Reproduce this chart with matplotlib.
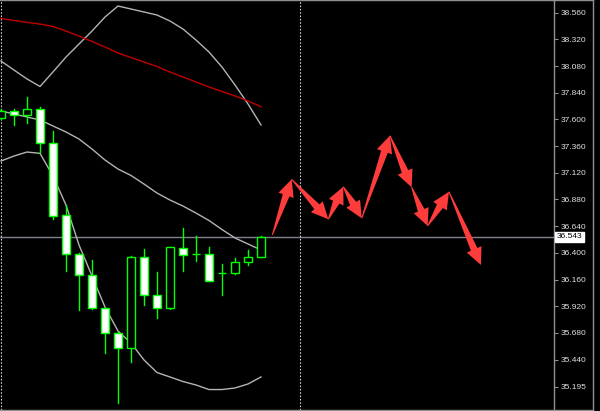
"""
MT4-style candle chart with bands and hand-drawn forecast arrows
"""
import numpy as np
import matplotlib
matplotlib.use('Agg')
import matplotlib.pyplot as plt
from matplotlib.patches import Rectangle, Polygon
from matplotlib.lines import Line2D

#----------------------------DATA-------------------------------#
opens  = [37.610, 37.676, 37.640, 37.694, 37.385, 36.738, 36.392, 36.204, 35.901, 35.682,
          35.544, 36.363, 36.018, 35.901, 36.444, 36.391, 36.392, 36.223, 36.216, 36.318, 36.360]
highs  = [37.690, 37.694, 37.804, 37.712, 37.499, 36.831, 36.400, 36.336, 35.905, 35.690,
          36.374, 36.437, 36.228, 36.455, 36.621, 36.554, 36.450, 36.300, 36.351, 36.423, 36.554]
lows   = [37.600, 37.547, 37.571, 37.295, 36.705, 36.237, 35.886, 35.895, 35.497, 35.053,
          35.421, 35.934, 35.812, 35.893, 36.237, 36.324, 36.150, 36.024, 36.207, 36.288, 36.360]
closes = [37.678, 37.643, 37.694, 37.385, 36.734, 36.392, 36.201, 35.901, 35.682, 35.544,
          36.366, 36.018, 35.907, 36.450, 36.384, 36.389, 36.150, 36.221, 36.318, 36.363, 36.543]

upper_band  = [38.125, 38.044, 37.964, 37.896, 38.027, 38.161, 38.278, 38.395, 38.521, 38.620,
               38.593, 38.566, 38.539, 38.485, 38.413, 38.314, 38.206, 38.071, 37.910, 37.739, 37.550]
middle_band = [37.676, 37.649, 37.622, 37.595, 37.541, 37.487, 37.424, 37.334, 37.235, 37.154,
               37.096, 37.019, 36.938, 36.875, 36.821, 36.758, 36.691, 36.610, 36.534, 36.480, 36.426]
lower_band  = [37.226, 37.271, 37.307, 37.295, 37.091, 36.830, 36.471, 36.192, 35.913, 35.697,
               35.589, 35.437, 35.324, 35.284, 35.243, 35.212, 35.171, 35.171, 35.185, 35.221, 35.284]
ma_red      = [38.508, 38.490, 38.473, 38.458, 38.436, 38.395, 38.350, 38.301, 38.251, 38.197,
               38.157, 38.116, 38.076, 38.026, 37.982, 37.937, 37.892, 37.851, 37.811, 37.766, 37.714]

# forecast path (bar index, price)
arrow_x = [20.87, 22.36, 25.18, 26.33, 27.75, 29.92, 31.59, 32.82, 34.46, 36.92]
arrow_y = [36.561, 37.062, 36.702, 36.995, 36.711, 37.454, 36.990, 36.642, 36.950, 36.291]

tick_vals = [38.560, 38.320, 38.080, 37.840, 37.600, 37.360, 37.120, 36.880,
             36.640, 36.400, 36.160, 35.920, 35.680, 35.440, 35.195]
tick_labels = ['38.560', '38.320', '38.080', '37.840', '37.600', '37.360', '37.120', '36.880',
               '36.640', '36.400', '36.160', '35.920', '35.680', '35.440', '35.195']
last_price = 36.543
separators = [0, 23]
#---------------------------------------------------------------#

W, H = 600, 411
fig = plt.figure(figsize=(W/100, H/100), dpi=100, facecolor='black')
ax = fig.add_axes([0, 1/H, 554/W, 410/H], facecolor='black')
ax.set_xlim(-1/13, 553/13)
ax.set_ylim(34.987, 38.674)

green = '#00ff00'
bw = 0.62
for i in range(len(opens)):
    o, h, l, c = opens[i], highs[i], lows[i], closes[i]
    ax.add_line(Line2D([i, i], [l, h], color=green, lw=1, zorder=3))
    fill = 'white' if c < o else 'black'
    ax.add_patch(Rectangle((i - bw/2, min(o, c)), bw, max(abs(c - o), 0.001),
                           facecolor=fill, edgecolor=green, lw=1, zorder=4))

xs = np.arange(len(upper_band))
ax.plot(xs, upper_band, color='#b4b4b4', lw=1, zorder=2)
ax.plot(xs, middle_band, color='#b4b4b4', lw=1, zorder=2)
ax.plot(xs, lower_band, color='#b4b4b4', lw=1, zorder=2)
ax.plot(xs, ma_red, color='#c00000', lw=1, zorder=2)

ax.axhline(last_price, color='#80808e', lw=1, zorder=1)
for s in separators:
    ax.axvline(s, color='#d0d0d0', lw=0.8, linestyle=(0, (1.5, 1.5)), zorder=1)

# arrows: thin tail widening into a big head, built in pixel space
fig.canvas.draw()
to_px = ax.transData.transform
to_data = ax.transData.inverted().transform
head_len, head_w, shaft_w = 17, 16, 7
for k in range(len(arrow_x) - 1):
    p0 = to_px((arrow_x[k], arrow_y[k]))
    p1 = to_px((arrow_x[k+1], arrow_y[k+1]))
    d = p1 - p0
    u = d / np.hypot(*d)
    n = np.array([-u[1], u[0]])
    b = p1 - u*head_len
    pts = [p0 + n*0.5, b + n*shaft_w/2, b + n*head_w/2, p1,
           b - n*head_w/2, b - n*shaft_w/2, p0 - n*0.5]
    ax.add_patch(Polygon(to_data(np.array(pts)), closed=True,
                         facecolor='#ff3c3c', edgecolor='none', zorder=5))

# price scale on the right
ax.yaxis.tick_right()
ax.set_yticks(tick_vals)
ax.set_yticklabels(tick_labels)
ax.tick_params(axis='y', length=3, width=0.8, color='#909090', pad=2,
               labelsize=6, labelcolor='#e0e0e0')
for t in ax.get_yticklabels():
    t.set_family(['Liberation Sans', 'DejaVu Sans'])
ax.set_xticks([])
for side in ['top', 'right', 'bottom']:
    ax.spines[side].set_color('#909090')
    ax.spines[side].set_linewidth(1)
ax.spines['left'].set_visible(False)

ax.text(1.004, last_price, '36.543', transform=ax.get_yaxis_transform(),
        fontsize=6, family=['Liberation Sans', 'DejaVu Sans'], color='black',
        va='center', ha='left', zorder=10, clip_on=False,
        bbox=dict(boxstyle='square,pad=0.2', facecolor='white', edgecolor='white'))

# window frame
fig.add_artist(Line2D([593/W, 593/W], [0, 1], color='#909090', lw=1))
fig.add_artist(Line2D([554/W, 593/W], [1 - 0.5/H, 1 - 0.5/H], color='#909090', lw=1))
fig.add_artist(Line2D([554/W, 593/W], [1.5/H, 1.5/H], color='#909090', lw=1))

plt.savefig('out.png', dpi=100, facecolor='black')
